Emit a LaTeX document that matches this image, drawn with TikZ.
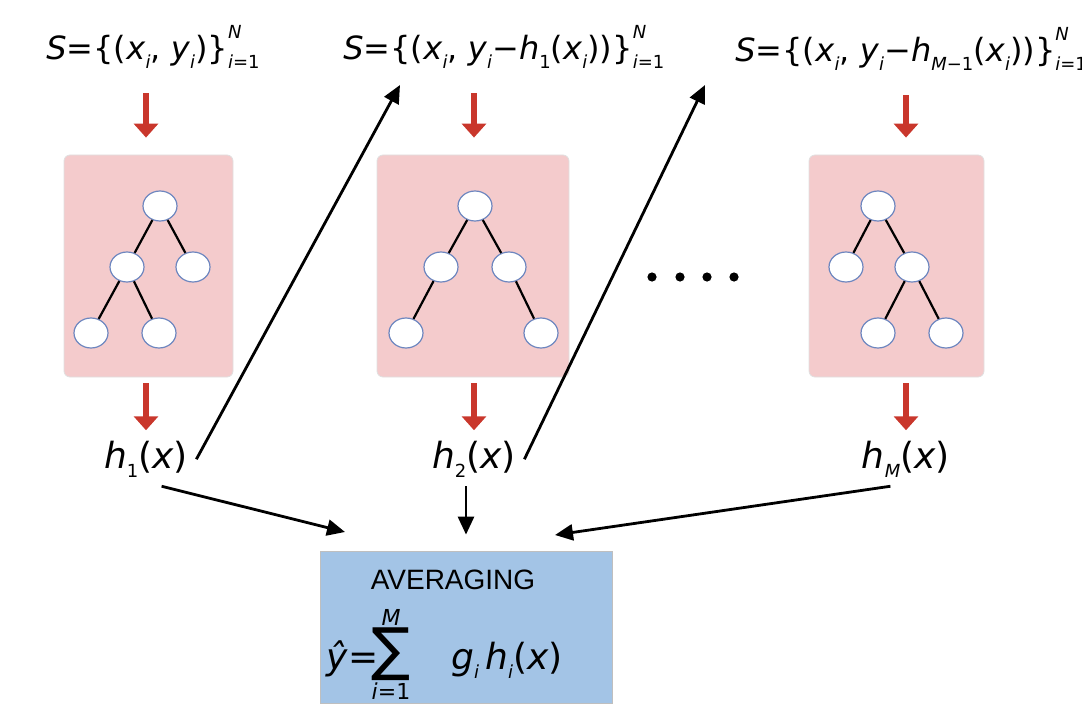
\documentclass[tikz,border=0pt]{standalone}
\usepackage{fontspec}
\setmainfont{DejaVu Sans}
\newfontfamily\arialfont{Liberation Sans}
\usetikzlibrary{positioning,arrows.meta,shapes.geometric}

\definecolor{pinkbg}{HTML}{F4CBCC}
\definecolor{redarr}{HTML}{C9372C}
\definecolor{avgblue}{HTML}{A3C4E6}
\definecolor{leafline}{HTML}{6D86BF}

\newcommand{\iv}[1]{\textit{#1}}
\newcommand{\sbs}[1]{\raisebox{-0.5ex}{\fontsize{9}{9}\selectfont #1}}
\newcommand{\lims}[2]{\makebox[0pt][l]{\raisebox{1.2ex}{\fontsize{9}{9}\selectfont\itshape #1}}\raisebox{-0.5ex}{\fontsize{9}{9}\selectfont #2}}

\begin{document}
\begin{tikzpicture}[x=0.5pt,y=-0.5pt,
  learner/.style={draw=black!12,fill=pinkbg,rounded corners=3pt,minimum height=111pt},
  leaf/.style={draw=leafline,fill=white,ellipse,minimum width=17pt,minimum height=15pt,inner sep=0pt,line width=0.6pt},
  edge/.style={line width=1.1pt},
  feed/.style={draw=redarr,line width=3pt,-{Triangle[width=12pt,length=7pt]}},
  arr/.style={-{Triangle[width=8pt,length=9pt]},line width=1.4pt},
  lbl/.style={font=\fontsize{18}{20}\selectfont,inner sep=4pt},
  setlbl/.style={font=\fontsize{16}{18}\selectfont,inner sep=4pt}
]
\useasboundingbox (0,0) rectangle (1082,706);

% training sets
\node[setlbl,anchor=base west] (set1) at (38,60) {\iv{S}=\{(\iv{x}\sbs{\iv{i}}, \iv{y}\sbs{\iv{i}})\}\lims{N}{\iv{i}=1}};
\node[setlbl,anchor=base west] (set2) at (335,60) {\iv{S}=\{(\iv{x}\sbs{\iv{i}}, \iv{y}\sbs{\iv{i}}−\iv{h}\sbs{1}(\iv{x}\sbs{\iv{i}}))\}\lims{N}{\iv{i}=1}};
\node[setlbl,anchor=base west] (set3) at (727,62) {\iv{S}=\{(\iv{x}\sbs{\iv{i}}, \iv{y}\sbs{\iv{i}}−\iv{h}\sbs{\iv{M}−1}(\iv{x}\sbs{\iv{i}}))\}\lims{N}{\iv{i}=1}};

% learners
\node[learner,minimum width=84.5pt] (tree1) at (148.5,266) {};
\node[learner,minimum width=96pt] (tree2) at (473,266) {};
\node[learner,minimum width=87.5pt] (tree3) at (896.5,266) {};

% tree 1
\node[leaf] (a1) at (160,206) {};
\node[leaf] (a2) at (127,267) {};
\node[leaf] (a3) at (193,267) {};
\node[leaf] (a4) at (91,333) {};
\node[leaf] (a5) at (159,333) {};
\draw[edge] (a1) -- (a2) (a1) -- (a3) (a2) -- (a4) (a2) -- (a5);
% tree 2
\node[leaf] (b1) at (475,206) {};
\node[leaf] (b2) at (441,267) {};
\node[leaf] (b3) at (509,267) {};
\node[leaf] (b4) at (406,333) {};
\node[leaf] (b5) at (541,333) {};
\draw[edge] (b1) -- (b2) (b1) -- (b3) (b2) -- (b4) (b3) -- (b5);
% tree 3
\node[leaf] (c1) at (878,206) {};
\node[leaf] (c2) at (846,267) {};
\node[leaf] (c3) at (912,267) {};
\node[leaf] (c4) at (878,333) {};
\node[leaf] (c5) at (946,333) {};
\draw[edge] (c1) -- (c2) (c1) -- (c3) (c3) -- (c4) (c3) -- (c5);

\foreach \x in {652,680,707,734}
  \fill (\x,277) circle[radius=2.3pt];

% outputs
\node[lbl,anchor=base] (h1) at (146,468) {\iv{h}\sbs{1}(\iv{x})};
\node[lbl,anchor=base] (h2) at (474,468) {\iv{h}\sbs{2}(\iv{x})};
\node[lbl,anchor=base] (hM) at (906,468) {\iv{h}\sbs{\iv{M}}(\iv{x})};

% averaging box
\node[draw=black!25,fill=avgblue,minimum width=146pt,minimum height=76pt] (avg) at (466,627) {};
\node[font=\arialfont\fontsize{14}{16}\selectfont,anchor=base] (avgtitle) at (453,589) {AVERAGING};
\node[font=\fontsize{29}{30}\selectfont,anchor=base,inner sep=0pt] (sum) at (391,669) {∑};
\node[font=\fontsize{11}{12}\selectfont\itshape,anchor=south,inner sep=0.5pt] (sumtop) at (sum.north) {M};
\node[font=\fontsize{11}{12}\selectfont,anchor=north,inner sep=1pt] (sumbot) at (sum.south) {\iv{i}=1};
\node[lbl,anchor=base east,inner sep=0pt] (yhat) at ([xshift=4pt]sum.base west) {\iv{ŷ}=};
\node[lbl,anchor=base west,inner sep=0pt] (terms) at ([xshift=20pt]sum.base east) {\iv{g}\sbs{\iv{i}}\,\iv{h}\sbs{\iv{i}}(\iv{x})};

% free ends
\coordinate (in2) at (400,85);
\coordinate (in3) at (705,85);
\coordinate (avgl) at (345,532);
\coordinate (avgr) at (555,535);

% red feeds
\foreach \s/\t/\h in {set1/tree1/h1,set2/tree2/h2,set3/tree3/hM}{
  \draw[feed,shorten <=8pt,shorten >=8.5pt] (\s.south -| \h) -- (\t.north -| \h);
  \draw[feed,shorten <=3pt,shorten >=1pt] (\t.south -| \h) -- (\h.north);
}

% black arrows
\draw[arr] (h1.east) -- (in2);
\draw[arr] (h2.east) -- (in3);
\draw[arr] (h1.-60) -- (avgl);
\draw[arr,shorten >=8pt] (h2.south -| avg) -- (avg.north);
\draw[arr] (hM.-120) -- (avgr);
\end{tikzpicture}
\end{document}
